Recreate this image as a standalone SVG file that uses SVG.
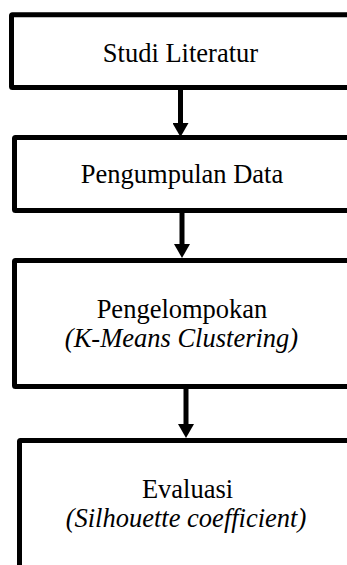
<svg xmlns="http://www.w3.org/2000/svg" width="347" height="565" viewBox="0 0 347 565">
  <style>
    .box { fill: #ffffff; stroke: #000000; stroke-width: 5; }
    .lbl { font-family: 'Liberation Serif', 'DejaVu Serif', serif; font-size: 26.5px; fill: #000000; text-anchor: middle; }
    .it { font-style: italic; }
    .conn { stroke: #000000; stroke-width: 5; fill: none; }
  </style>
  <defs>
    <marker id="arrow" viewBox="0 0 14 16" refX="1" refY="8" markerWidth="14" markerHeight="16" markerUnits="userSpaceOnUse" orient="auto">
      <path d="M0,0 L14,8 L0,16 z" fill="#000000"/>
    </marker>
  </defs>
  <rect width="347" height="565" fill="#ffffff"/>
  <g id="node-studi-literatur">
    <rect class="box" x="11.5" y="14.8" width="400" height="72.7" rx="1"/>
    <text class="lbl" font-family="Liberation Serif, serif" x="180.5" y="62">Studi Literatur</text>
  </g>
  <g id="node-pengumpulan-data">
    <rect class="box" x="14.5" y="137.5" width="400" height="73" rx="1"/>
    <text class="lbl" font-family="Liberation Serif, serif" x="182" y="183">Pengumpulan Data</text>
  </g>
  <g id="node-pengelompokan">
    <rect class="box" x="14.5" y="260.5" width="400" height="126" rx="1"/>
    <text class="lbl" font-family="Liberation Serif, serif" x="182" y="318">Pengelompokan</text>
    <text class="lbl it" font-family="Liberation Serif, serif" x="181.5" y="347">(K-Means Clustering)</text>
  </g>
  <g id="node-evaluasi">
    <rect class="box" x="19.5" y="440.5" width="400" height="200" rx="1"/>
    <text class="lbl" font-family="Liberation Serif, serif" x="187.5" y="498">Evaluasi</text>
    <text class="lbl it" font-family="Liberation Serif, serif" x="186" y="527">(Silhouette coefficient)</text>
  </g>
  <g id="connectors">
    <line class="conn" x1="180.5" y1="90" x2="180.5" y2="124" marker-end="url(#arrow)"/>
    <line class="conn" x1="182" y1="213" x2="182" y2="245" marker-end="url(#arrow)"/>
    <line class="conn" x1="186" y1="389" x2="186" y2="425" marker-end="url(#arrow)"/>
  </g>
</svg>
